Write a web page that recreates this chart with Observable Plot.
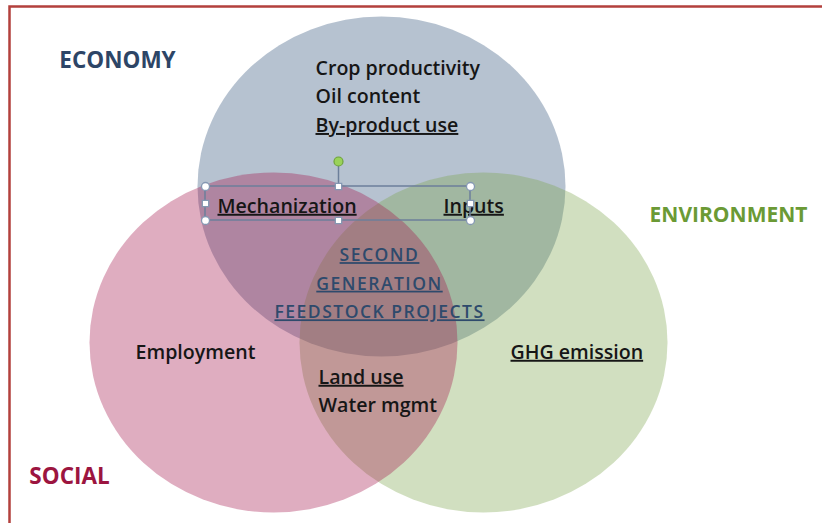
<!DOCTYPE html>
<html><head><meta charset="utf-8">
<script src="https://cdn.jsdelivr.net/npm/d3@7"></script>
<script src="https://cdn.jsdelivr.net/npm/@observablehq/plot@0.6"></script>
<style>
html,body{margin:0;padding:0;background:#fff;}
#chart svg{display:block;}
</style></head>
<body><div id="chart"></div>
<script>
// ---- data ----
const sets = ["ECONOMY", "SOCIAL", "ENVIRONMENT"];
const economyOnly = ["Crop productivity", "Oil content", "By-product use"];
const economySocial = ["Mechanization"];
const economyEnvironment = ["Inputs"];
const allThree = ["SECOND", "GENERATION", "FEEDSTOCK PROJECTS"];
const socialOnly = ["Employment"];
const socialEnvironment = ["Land use", "Water mgmt"];
const environmentOnly = ["GHG emission"];
const underlined = ["By-product use", "Mechanization", "Inputs", "SECOND", "GENERATION",
  "FEEDSTOCK PROJECTS", "Land use", "GHG emission"];

// ---- layout (positions / styles) ----
const W = 822, H = 523;
const circleLayout = {
  ECONOMY:     {cx: 381, cy: 186, color: "#2f5079", label: [117, 60], size: 22.5, labelColor: "#2d4566"},
  SOCIAL:      {cx: 273, cy: 342, color: "#a3154a", label: [69, 476], size: 22.5, labelColor: "#9c1540"},
  ENVIRONMENT: {cx: 483, cy: 342, color: "#7aa44a", label: [728, 215], size: 21, labelColor: "#6b9a35"}
};
const RX = 184, RY = 170;
const lineStep = 28.6;
const regionLayout = [
  {items: economyOnly, x: 315, y: 68},
  {items: economySocial, x: 217, y: 206},
  {items: economyEnvironment, x: 443, y: 206},
  {items: socialOnly, x: 135, y: 352},
  {items: socialEnvironment, x: 318, y: 377},
  {items: environmentOnly, x: 510, y: 352}
];
const centerLayout = {x: 379, y: 255};
const sel = {x1: 205, x2: 470, y1: 186, y2: 220, xm: 338, ym: 203, rotY: 161};

// ---- tables ----
const circles = ["ECONOMY", "ENVIRONMENT", "SOCIAL"].map(s => ({set: s, ...circleLayout[s]}));
const setLabels = sets.map(s => ({text: s, x: circleLayout[s].label[0], y: circleLayout[s].label[1],
  color: circleLayout[s].labelColor, size: circleLayout[s].size}));
const items = [];
regionLayout.forEach(r => r.items.forEach((t, i) => items.push({text: t, x: r.x, y: r.y + i * lineStep})));
const centerItems = allThree.map((t, i) => ({text: t, x: centerLayout.x, y: centerLayout.y + i * lineStep}));
const corners = [[sel.x1, sel.y1], [sel.x2, sel.y1], [sel.x1, sel.y2], [sel.x2, sel.y2]].map(([x, y]) => ({x, y}));
const mids = [[sel.xm, sel.y1], [sel.xm, sel.y2], [sel.x1, sel.ym], [sel.x2, sel.ym]].map(([x, y]) => ({x, y}));

const font = "'Open Sans', sans-serif";

const chart = Plot.plot({
  width: W, height: H, margin: 0,
  x: {domain: [0, W], range: [0, W], axis: null},
  y: {domain: [0, H], range: [0, H], axis: null},
  style: {background: "#fff", fontFamily: font},
  marks: [
    Plot.dot(circles, {x: "cx", y: "cy", r: RX, fill: "color", fillOpacity: 0.35, stroke: null}),
    Plot.frame({stroke: "#b3403d", strokeWidth: 2.5, insetLeft: 9, insetTop: 6, insetRight: -6, insetBottom: -6}),
    Plot.text(setLabels, {x: "x", y: "y", text: "text", fill: "color", fontSize: "size", fontWeight: "bold"}),
    Plot.text(items, {x: "x", y: "y", text: "text", textAnchor: "start", fill: "#161616", fontSize: 19.6, fontWeight: 600}),
    Plot.text(centerItems, {x: "x", y: "y", text: "text", fill: "#2e4a6c", fontSize: 17.5, fontWeight: 600}),
    Plot.rect([sel], {x1: "x1", x2: "x2", y1: "y1", y2: "y2", fill: "none", stroke: "#6c7f9a", strokeWidth: 1.5}),
    Plot.ruleX([sel], {x: "xm", y1: "rotY", y2: "y1", stroke: "#6c7f9a", strokeWidth: 1.5}),
    Plot.dot(corners, {x: "x", y: "y", r: 4, fill: "#fff", stroke: "#8497b2", strokeWidth: 1.3}),
    Plot.dot(mids, {x: "x", y: "y", r: 3.6, symbol: "square", fill: "#fff", stroke: "#8497b2", strokeWidth: 1.3}),
    Plot.dot([sel], {x: "xm", y: "rotY", r: 4.5, fill: "#9ad25a", stroke: "#6ea33b", strokeWidth: 1.2})
  ]
});

// squash the big circles into ellipses
d3.select(chart).selectAll("circle").each(function () {
  if (+this.getAttribute("r") !== RX) return;
  const cy = +this.getAttribute("cy");
  this.setAttribute("transform", `translate(0,${cy}) scale(1,${RY / RX}) translate(0,${-cy})`);
});
// underline + spacing
d3.select(chart).selectAll("text").each(function () {
  const t = this.textContent;
  if (underlined.includes(t)) this.style.textDecoration = "underline";
  if (allThree.includes(t)) this.style.letterSpacing = "1.5px";
});

document.getElementById("chart").appendChild(chart);
</script>
</body></html>
